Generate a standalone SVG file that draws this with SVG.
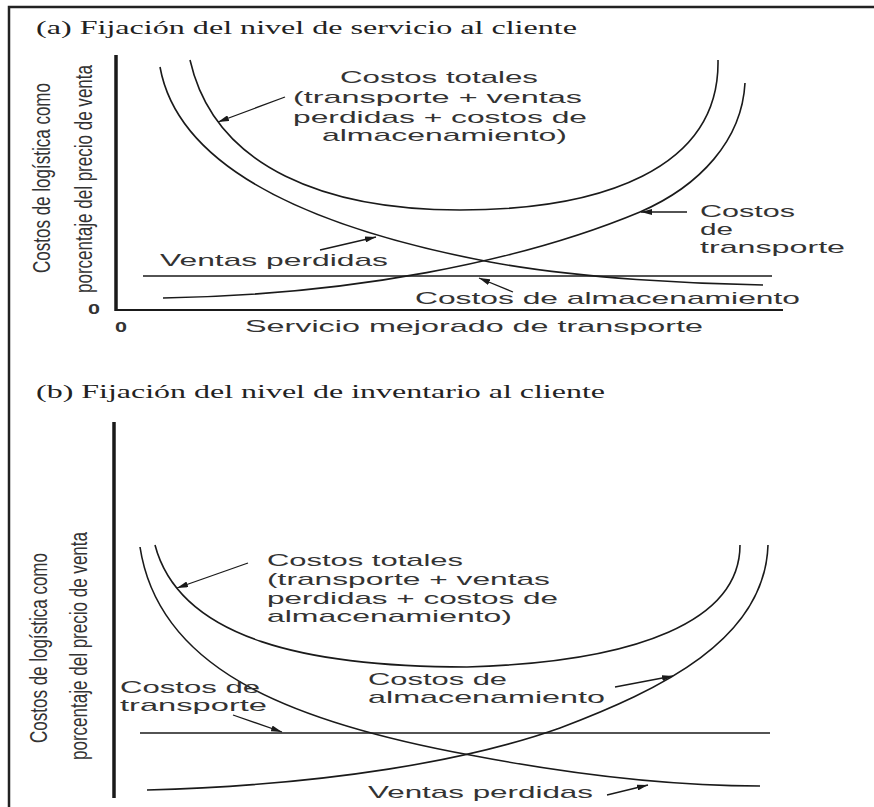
<svg xmlns="http://www.w3.org/2000/svg" width="874" height="807" viewBox="0 0 874 807">
<style>
.bg{fill:#ffffff}
.frame{stroke:#222;stroke-width:2.5;fill:none}
.axis{stroke:#1a1a1a;stroke-width:3.5;fill:none}
.xaxis{stroke:#1a1a1a;stroke-width:2;fill:none}
.curve{stroke:#1a1a1a;stroke-width:1.6;fill:none}
.conn{stroke:#1a1a1a;stroke-width:1.3;fill:none;marker-end:url(#ah)}
.title{font-family:"Liberation Serif","Times New Roman",serif;font-size:18px;fill:#222}
.lbl{font-family:"Liberation Sans",Arial,sans-serif;font-size:17px;fill:#333}
.ylbl{font-family:"Liberation Sans",Arial,sans-serif;font-size:23px;fill:#333}
.zero{font-family:"Liberation Sans",Arial,sans-serif;font-size:14px;font-weight:bold;fill:#333}
</style>
<defs>
<marker id="ah" viewBox="0 0 10 10" refX="10" refY="5" markerWidth="11" markerHeight="6" preserveAspectRatio="none" orient="auto" markerUnits="userSpaceOnUse">
<path d="M0,0 L10,5 L0,10 z" fill="#1a1a1a"/>
</marker>
</defs>
<rect class="bg" x="0" y="0" width="874" height="807"/>
<g id="frame">
<path class="frame" d="M9,807 L9,7 L874,7"/>
</g>

<!-- Panel (a) -->
<g id="title-a"><text class="title" x="36" y="34" textLength="541" lengthAdjust="spacingAndGlyphs">(a) Fijación del nivel de servicio al cliente</text></g>
<g id="axes-a">
<path class="axis" d="M116,55 L116,311"/>
<path class="xaxis" d="M116,310 L783,310"/>
<text class="zero" x="88" y="314" textLength="12" lengthAdjust="spacingAndGlyphs">0</text>
<text class="zero" x="115" y="332" textLength="12" lengthAdjust="spacingAndGlyphs">0</text>
<text class="lbl" x="245" y="332" textLength="458" lengthAdjust="spacingAndGlyphs">Servicio mejorado de transporte</text>
</g>
<g id="ylabel-a">
<text class="ylbl" transform="translate(50,178) rotate(-90)" x="-95" y="0" textLength="190" lengthAdjust="spacingAndGlyphs">Costos de logística como</text>
<text class="ylbl" transform="translate(92,179) rotate(-90)" x="-114" y="0" textLength="228" lengthAdjust="spacingAndGlyphs">porcentaje del precio de venta</text>
</g>
<g id="total-a">
<path class="curve" d="M190,60 C215,170 330,210 460,210 C600,210 720,170 718,60"/>
<text class="lbl" x="340" y="83" textLength="198" lengthAdjust="spacingAndGlyphs">Costos totales</text>
<text class="lbl" x="293" y="103" textLength="289" lengthAdjust="spacingAndGlyphs">(transporte + ventas</text>
<text class="lbl" x="293" y="123" textLength="294" lengthAdjust="spacingAndGlyphs">perdidas + costos de</text>
<text class="lbl" x="322" y="141" textLength="245" lengthAdjust="spacingAndGlyphs">almacenamiento)</text>
</g>
<g id="lost-a">
<path class="curve" d="M160,67 C175,150 270,220 490,262 C580,279 700,284 763,285"/>
<text class="lbl" x="160" y="266" textLength="228" lengthAdjust="spacingAndGlyphs">Ventas perdidas</text>
</g>
<g id="transport-a">
<path class="curve" d="M163,298 C350,295 520,262 640,212 C700,186 742,140 745,83"/>
<text class="lbl" x="700" y="217" textLength="95" lengthAdjust="spacingAndGlyphs">Costos</text>
<text class="lbl" x="700" y="235" textLength="33" lengthAdjust="spacingAndGlyphs">de</text>
<text class="lbl" x="700" y="253" textLength="145" lengthAdjust="spacingAndGlyphs">transporte</text>
</g>
<g id="storage-a">
<path class="curve" d="M143,276 L772,276"/>
<text class="lbl" x="415" y="304" textLength="385" lengthAdjust="spacingAndGlyphs">Costos de almacenamiento</text>
</g>

<!-- Panel (b) -->
<g id="title-b"><text class="title" x="36" y="398" textLength="569" lengthAdjust="spacingAndGlyphs">(b) Fijación del nivel de inventario al cliente</text></g>
<g id="axes-b">
<path class="axis" d="M114,422 L114,798"/>
</g>
<g id="ylabel-b">
<text class="ylbl" transform="translate(47,648) rotate(-90)" x="-95" y="0" textLength="190" lengthAdjust="spacingAndGlyphs">Costos de logística como</text>
<text class="ylbl" transform="translate(87,646) rotate(-90)" x="-114" y="0" textLength="228" lengthAdjust="spacingAndGlyphs">porcentaje del precio de venta</text>
</g>
<g id="total-b">
<path class="curve" d="M155,545 C180,640 310,667 467,667 C640,662 740,620 740,545"/>
<text class="lbl" x="267" y="566" textLength="196" lengthAdjust="spacingAndGlyphs">Costos totales</text>
<text class="lbl" x="267" y="585" textLength="283" lengthAdjust="spacingAndGlyphs">(transporte + ventas</text>
<text class="lbl" x="267" y="604" textLength="291" lengthAdjust="spacingAndGlyphs">perdidas + costos de</text>
<text class="lbl" x="267" y="622" textLength="245" lengthAdjust="spacingAndGlyphs">almacenamiento)</text>
</g>
<g id="lost-b">
<path class="curve" d="M140,547 C158,665 280,720 470,755 C600,780 700,786 760,786"/>
<text class="lbl" x="368" y="798" textLength="225" lengthAdjust="spacingAndGlyphs">Ventas perdidas</text>
</g>
<g id="transport-b">
<path class="curve" d="M140,733 L770,733"/>
<text class="lbl" x="120" y="693" textLength="140" lengthAdjust="spacingAndGlyphs">Costos de</text>
<text class="lbl" x="120" y="711" textLength="147" lengthAdjust="spacingAndGlyphs">transporte</text>
</g>
<g id="storage-b">
<path class="curve" d="M147,790 C330,785 470,760 560,728 C660,690 765,640 768,545"/>
<text class="lbl" x="368" y="685" textLength="139" lengthAdjust="spacingAndGlyphs">Costos de</text>
<text class="lbl" x="368" y="703" textLength="237" lengthAdjust="spacingAndGlyphs">almacenamiento</text>
</g>

<g id="connectors">
<path class="conn" d="M285,97 L218,122"/>
<path class="conn" d="M687,212 L641,212"/>
<path class="conn" d="M320,250 L376,237"/>
<path class="conn" d="M513,292 L479,278"/>
<path class="conn" d="M248,563 L177,588"/>
<path class="conn" d="M233,715 L282,732"/>
<path class="conn" d="M615,687 L673,676"/>
<path class="conn" d="M607,795 L648,785"/>
</g>
</svg>
